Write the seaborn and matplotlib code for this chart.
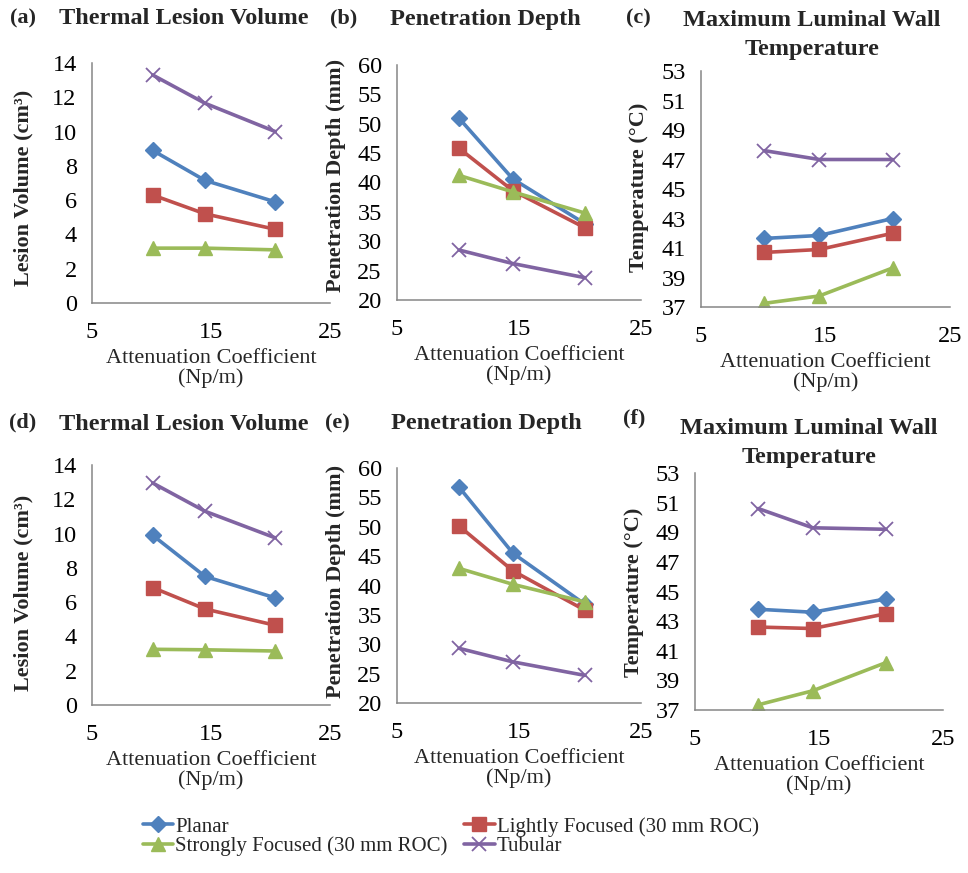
import matplotlib
matplotlib.use("Agg")
import matplotlib.pyplot as plt
import seaborn as sns
import pandas as pd

# ---------------- data ----------------
atten_coeff = [10.1, 14.5, 20.4]
series_names = ["Planar", "Lightly Focused (30 mm ROC)",
                "Strongly Focused (30 mm ROC)", "Tubular"]

# Row 1
lesion_top_planar = [8.9, 7.15, 5.9]
lesion_top_light = [6.3, 5.2, 4.3]
lesion_top_strong = [3.2, 3.2, 3.1]
lesion_top_tubular = [13.3, 11.65, 10.0]

depth_top_planar = [50.9, 40.6, 33.0]
depth_top_light = [45.8, 38.6, 32.3]
depth_top_strong = [41.2, 38.4, 34.8]
depth_top_tubular = [28.5, 26.2, 23.8]

temp_top_planar = [41.65, 41.85, 43.0]
temp_top_light = [40.7, 40.9, 42.0]
temp_top_strong = [37.25, 37.75, 39.65]
temp_top_tubular = [47.6, 47.0, 47.0]

# Row 2
lesion_bot_planar = [9.9, 7.5, 6.25]
lesion_bot_light = [6.85, 5.6, 4.65]
lesion_bot_strong = [3.25, 3.22, 3.15]
lesion_bot_tubular = [12.95, 11.3, 9.75]

depth_bot_planar = [56.7, 45.5, 36.8]
depth_bot_light = [50.1, 42.5, 35.8]
depth_bot_strong = [42.9, 40.2, 37.2]
depth_bot_tubular = [29.3, 27.0, 24.7]

temp_bot_planar = [43.8, 43.6, 44.5]
temp_bot_light = [42.6, 42.5, 43.5]
temp_bot_strong = [37.35, 38.3, 40.2]
temp_bot_tubular = [50.6, 49.3, 49.2]

panel_letters = ["(a)", "(b)", "(c)", "(d)", "(e)", "(f)"]
panel_titles = ["Thermal Lesion Volume", "Penetration Depth",
                "Maximum Luminal Wall\nTemperature"] * 2
y_labels = ["Lesion Volume (cm³)", "Penetration Depth (mm)", "Temperature (°C)"] * 2
x_label = "Attenuation Coefficient\n(Np/m)"
x_ticks = [5, 15, 25]
y_ticks_lesion = [0, 2, 4, 6, 8, 10, 12, 14]
y_ticks_depth = [20, 25, 30, 35, 40, 45, 50, 55, 60]
y_ticks_temp = [37, 39, 41, 43, 45, 47, 49, 51, 53]

panels = [
    [lesion_top_planar, lesion_top_light, lesion_top_strong, lesion_top_tubular],
    [depth_top_planar, depth_top_light, depth_top_strong, depth_top_tubular],
    [temp_top_planar, temp_top_light, temp_top_strong, temp_top_tubular],
    [lesion_bot_planar, lesion_bot_light, lesion_bot_strong, lesion_bot_tubular],
    [depth_bot_planar, depth_bot_light, depth_bot_strong, depth_bot_tubular],
    [temp_bot_planar, temp_bot_light, temp_bot_strong, temp_bot_tubular],
]
panel_yticks = [y_ticks_lesion, y_ticks_depth, y_ticks_temp] * 2

# ---------------- style ----------------
sns.set_style("white")
plt.rcParams["font.family"] = ["Liberation Serif", "DejaVu Serif"]

colors = ["#4F81BD", "#C0504D", "#9BBB59", "#8064A2"]
markers = ["D", "s", "^", "x"]
msizes = [8, 10, 10.5, 10.5]
mews = [1, 1, 1, 1.3]
grey = "#868686"

W, H = 968, 873
fig = plt.figure(figsize=(W / 100, H / 100), dpi=100)

def fx(x):
    return x / W

def fy(y):
    return 1 - y / H

# axes boxes in pixel coordinates (left, right, top, bottom)
boxes = [
    (92, 330, 63, 303),
    (397, 641, 65, 300),
    (701, 950, 71, 307),
    (92, 330, 465, 705),
    (397, 641, 468, 703),
    (695, 943, 473, 710),
]
letter_pos = [(10, 18), (330, 18), (626, 18), (9, 422), (325, 423), (623, 418)]
title_pos = [(184, 19), (485, 19), (812, 35), (184, 424), (486, 423), (809, 443)]
ylabel_pos = [(23, 188), (336, 175), (639, 187), (23, 593), (336, 581), (634, 592)]

handles = None
for i, (box, vals) in enumerate(zip(boxes, panels)):
    l, r, t, b = box
    ax = fig.add_axes([fx(l), fy(b), (r - l) / W, (b - t) / H])
    for name, v, c, m, ms, mw in zip(series_names, vals, colors, markers, msizes, mews):
        df = pd.DataFrame({"x": atten_coeff, "y": v})
        sns.lineplot(data=df, x="x", y="y", ax=ax, color=c, marker=m,
                     markersize=ms, markeredgecolor=c, markeredgewidth=mw,
                     linewidth=2.6, label=name, legend=(i == 0))
    if i == 0:
        handles, labels = ax.get_legend_handles_labels()
    if ax.get_legend() is not None:
        ax.get_legend().remove()
    yt = panel_yticks[i]
    ax.set_xlim(5, 25)
    ax.set_ylim(yt[0], yt[-1])
    ax.set_xticks(x_ticks)
    ax.set_yticks(yt)
    for s in ["top", "right"]:
        ax.spines[s].set_visible(False)
    for s in ["left", "bottom"]:
        ax.spines[s].set_color(grey)
        ax.spines[s].set_linewidth(1.1)
    ax.tick_params(axis="both", direction="out", length=5, width=1.1,
                   color=grey, labelsize=17.5, labelcolor="black")
    ax.tick_params(axis="x", pad=9)
    ax.tick_params(axis="y", pad=6)
    ax.set_xlabel(x_label, fontsize=16, linespacing=1.0, labelpad=4)
    ax.set_ylabel("")
    fig.text(fx(ylabel_pos[i][0]), fy(ylabel_pos[i][1]), y_labels[i],
             rotation=90, ha="center", va="center", fontsize=16, fontweight="bold")
    fig.text(fx(letter_pos[i][0]), fy(letter_pos[i][1]), panel_letters[i],
             ha="left", va="center", fontsize=16, fontweight="bold")
    fig.text(fx(title_pos[i][0]), fy(title_pos[i][1]), panel_titles[i],
             ha="center", va="center", fontsize=17.5, fontweight="bold",
             linespacing=1.45)

order = [0, 2, 1, 3]
fig.legend([handles[k] for k in order], [labels[k] for k in order],
           ncol=2, loc="upper left", bbox_to_anchor=(fx(143), fy(817)),
           frameon=False, fontsize=15, handlelength=1.45, handletextpad=0.1,
           columnspacing=0.8, labelspacing=0.0, borderpad=0, borderaxespad=0)

fig.savefig("out.png", dpi=100)
